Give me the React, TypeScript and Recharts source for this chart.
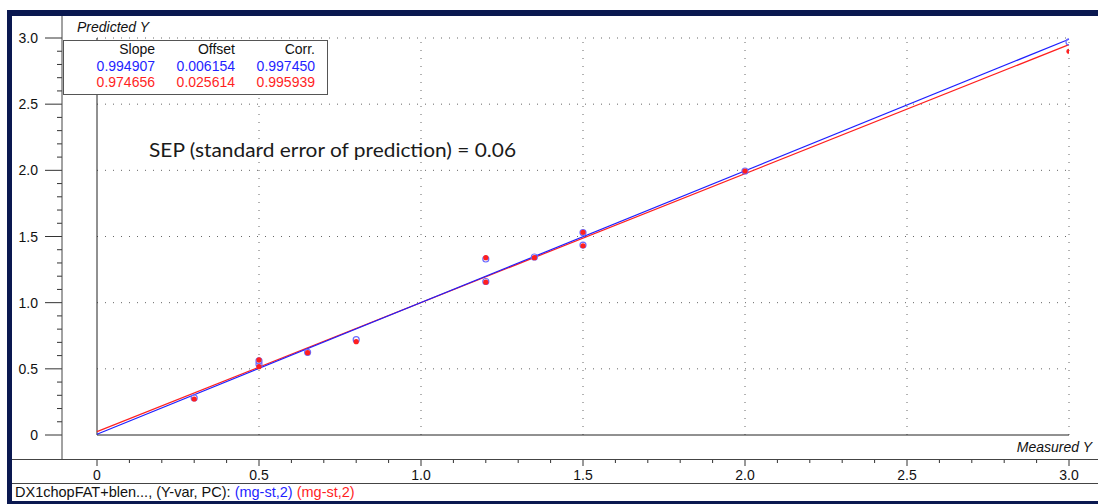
import { ReferenceLine, Scatter, ScatterChart, XAxis, YAxis } from 'recharts';

// Measured vs. predicted Y for two calibration models (blue / red).
const BLUE_POINTS = [
  { x: 0.3, y: 0.28 },
  { x: 0.5, y: 0.56 },
  { x: 0.5, y: 0.535 },
  { x: 0.65, y: 0.625 },
  { x: 0.8, y: 0.72 },
  { x: 1.2, y: 1.33 },
  { x: 1.2, y: 1.16 },
  { x: 1.35, y: 1.345 },
  { x: 1.5, y: 1.53 },
  { x: 1.5, y: 1.435 },
  { x: 2.0, y: 1.995 },
  { x: 3.0, y: 2.97 },
];

const RED_POINTS = [
  { x: 0.3, y: 0.272 },
  { x: 0.5, y: 0.567 },
  { x: 0.5, y: 0.516 },
  { x: 0.65, y: 0.622 },
  { x: 0.8, y: 0.705 },
  { x: 1.2, y: 1.34 },
  { x: 1.2, y: 1.155 },
  { x: 1.35, y: 1.34 },
  { x: 1.5, y: 1.532 },
  { x: 1.5, y: 1.43 },
  { x: 2.0, y: 1.995 },
  { x: 3.0, y: 2.9 },
];

// regression stats shown in the table: slope, offset, correlation
const BLUE_FIT = { slope: 0.994907, offset: 0.006154, corr: '0.997450' };
const RED_FIT = { slope: 0.974656, offset: 0.025614, corr: '0.995939' };

const AXIS_TICKS = [
  0, 0.1, 0.2, 0.3, 0.4, 0.5, 0.6, 0.7, 0.8, 0.9, 1.0, 1.1, 1.2, 1.3, 1.4, 1.5,
  1.6, 1.7, 1.8, 1.9, 2.0, 2.1, 2.2, 2.3, 2.4, 2.5, 2.6, 2.7, 2.8, 2.9, 3.0,
];
const GRID_VALUES = [0.5, 1.0, 1.5, 2.0, 2.5, 3.0];

const W = 1098;
const H = 504;
const NAVY = '#0a1850';
const FONT = '"Liberation Sans", Arial, sans-serif';
const BLUE = '#1f1fff';
const RED = '#ff1f1f';

const isMajor = (v: number) => Math.abs(v * 2 - Math.round(v * 2)) < 1e-6;
const fmt = (v: number) => (v === 0 ? '0' : v.toFixed(1));

const YTick = (props: any) => {
  const { y, payload } = props;
  const major = isMajor(payload.value);
  return (
    <g>
      <line x1={major ? 45 : 57} x2={62} y1={y} y2={y} stroke="#333" />
      {major && (
        <text x={38} y={y + 5} textAnchor="end" fontSize={14} fontFamily={FONT} fill="#111">
          {fmt(payload.value)}
        </text>
      )}
    </g>
  );
};

const XTick = (props: any) => {
  const { x, payload } = props;
  const major = isMajor(payload.value);
  return (
    <g>
      <line x1={x} x2={x} y1={459} y2={major ? 466 : 463} stroke="#333" />
      {major && (
        <text x={x} y={480} textAnchor="middle" fontSize={14} fontFamily={FONT} fill="#111">
          {fmt(payload.value)}
        </text>
      )}
    </g>
  );
};

const BlueDot = (props: any) => (
  <circle cx={props.cx} cy={props.cy} r={3} fill="none" stroke="#6b6bff" strokeWidth={1.2} />
);
const RedDot = (props: any) => <circle cx={props.cx} cy={props.cy} r={2.6} fill={RED} />;

const fitSegment = (fit: { slope: number; offset: number }) => [
  { x: 0, y: fit.offset },
  { x: 3, y: fit.slope * 3 + fit.offset },
];

export default function App() {
  return (
    <div style={{ position: 'absolute', left: 0, top: 0, width: W, height: H, background: '#fff' }}>
      <ScatterChart width={W} height={H} margin={{ top: 38, right: 29, bottom: 0, left: 12 }}>
        <XAxis
          type="number"
          dataKey="x"
          domain={[0, 3]}
          ticks={AXIS_TICKS}
          interval={0}
          height={69}
          axisLine={false}
          tickLine={false}
          tick={<XTick />}
          allowDataOverflow
        />
        <YAxis
          type="number"
          dataKey="y"
          domain={[0, 3]}
          ticks={AXIS_TICKS}
          interval={0}
          width={85}
          axisLine={false}
          tickLine={false}
          tick={<YTick />}
          allowDataOverflow
        />
        {GRID_VALUES.map((v) => (
          <ReferenceLine key={`h${v}`} y={v} stroke="#666" strokeDasharray="1 7" />
        ))}
        {GRID_VALUES.map((v) => (
          <ReferenceLine key={`v${v}`} x={v} stroke="#666" strokeDasharray="1 7" />
        ))}
        <ReferenceLine x={0} stroke="#222" />
        <ReferenceLine y={0} stroke="#222" />
        <ReferenceLine segment={fitSegment(RED_FIT)} stroke={RED} strokeWidth={1.2} ifOverflow="visible" />
        <ReferenceLine segment={fitSegment(BLUE_FIT)} stroke={BLUE} strokeWidth={1.2} ifOverflow="visible" />
        <Scatter data={BLUE_POINTS} shape={<BlueDot />} isAnimationActive={false} />
        <Scatter data={RED_POINTS} shape={<RedDot />} isAnimationActive={false} />
      </ScatterChart>

      <svg
        width={W}
        height={H}
        style={{ position: 'absolute', left: 0, top: 0, pointerEvents: 'none' }}
      >
        {/* window frame */}
        <rect x={7} y={10} width={W - 7} height={6} fill={NAVY} />
        <rect x={7} y={10} width={5} height={H - 10} fill={NAVY} />
        <rect x={7} y={501} width={W - 7} height={3} fill={NAVY} />
        <line x1={62} x2={62} y1={16} y2={459} stroke="#444" />
        <line x1={12} x2={W} y1={459.5} y2={459.5} stroke="#444" />
        <line x1={12} x2={W} y1={483.5} y2={483.5} stroke="#444" />

        <text x={77} y={32} fontSize={14} fontStyle="italic" fontFamily={FONT} fill="#111">
          Predicted Y
        </text>
        <text x={1092} y={452} textAnchor="end" fontSize={14} fontStyle="italic" fontFamily={FONT} fill="#111">
          Measured Y
        </text>

        {/* fit statistics table */}
        <rect x={63.5} y={40.5} width={264} height={54} fill="#fff" stroke="#555" />
        <g fontSize={14} fontFamily={FONT} textAnchor="end">
          <text x={155} y={54} fill="#111">Slope</text>
          <text x={235} y={54} fill="#111">Offset</text>
          <text x={315} y={54} fill="#111">Corr.</text>
          <text x={155} y={70.5} fill={BLUE}>{BLUE_FIT.slope.toFixed(6)}</text>
          <text x={235} y={70.5} fill={BLUE}>{BLUE_FIT.offset.toFixed(6)}</text>
          <text x={315} y={70.5} fill={BLUE}>{BLUE_FIT.corr}</text>
          <text x={155} y={87} fill={RED}>{RED_FIT.slope.toFixed(6)}</text>
          <text x={235} y={87} fill={RED}>{RED_FIT.offset.toFixed(6)}</text>
          <text x={315} y={87} fill={RED}>{RED_FIT.corr}</text>
        </g>

        <text
          x={149}
          y={157}
          fontSize={18.5}
          fontFamily='Lato, "Open Sans", sans-serif'
          fill="#1a1a1a"
          textLength={367}
          lengthAdjust="spacingAndGlyphs"
        >
          SEP (standard error of prediction) = 0.06
        </text>

        <text x={15} y={497} fontSize={14.5} fontFamily={FONT} fill="#111">
          DX1chopFAT+blen..., (Y-var, PC):{' '}
          <tspan fill={BLUE}>(mg-st,2)</tspan> <tspan fill={RED}>(mg-st,2)</tspan>
        </text>
      </svg>
    </div>
  );
}
